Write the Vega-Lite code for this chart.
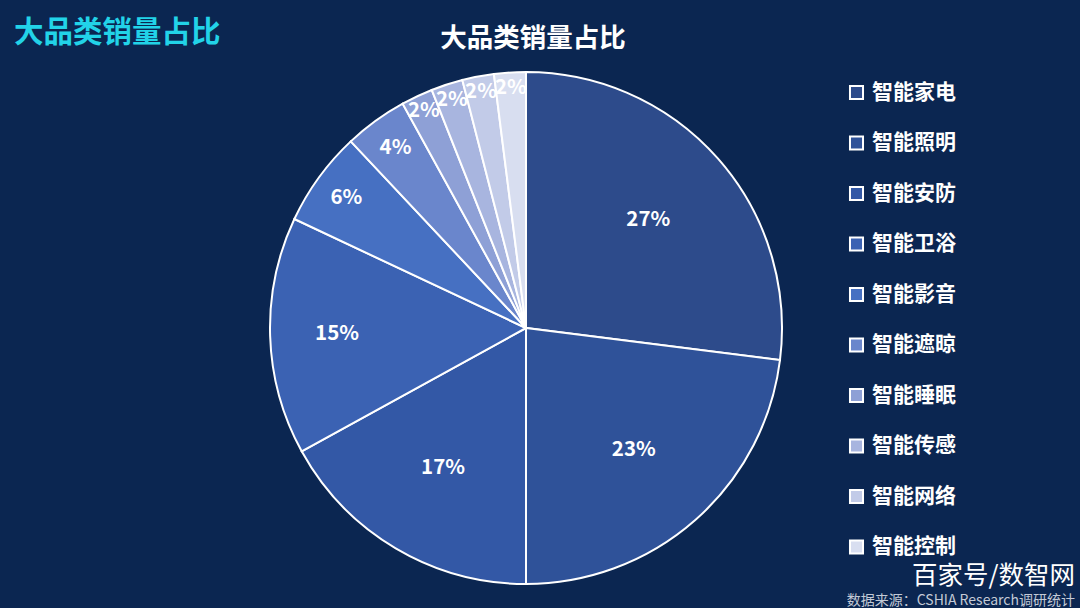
{
  "$schema": "https://vega.github.io/schema/vega-lite/v6.json",
  "background": "#0b2651",
  "padding": {"left": 0, "top": 18, "right": 5, "bottom": 0},
  "config": {"view": {"stroke": null}, "font": "Noto Sans CJK SC", "concat": {"spacing": 0}},
  "data": {
    "values": [
      {"category": "智能家电", "value": 27, "label": "27%", "rank": 1},
      {"category": "智能照明", "value": 23, "label": "23%", "rank": 2},
      {"category": "智能安防", "value": 17, "label": "17%", "rank": 3},
      {"category": "智能卫浴", "value": 15, "label": "15%", "rank": 4},
      {"category": "智能影音", "value": 6, "label": "6%", "rank": 5},
      {"category": "智能遮晾", "value": 4, "label": "4%", "rank": 6},
      {"category": "智能睡眠", "value": 2, "label": "2%", "rank": 7},
      {"category": "智能传感", "value": 2, "label": "2%", "rank": 8},
      {"category": "智能网络", "value": 2, "label": "2%", "rank": 9},
      {"category": "智能控制", "value": 2, "label": "2%", "rank": 10}
    ]
  },
  "title": {
    "text": "百家号/数智网",
    "subtitle": "数据来源：CSHIA Research调研统计",
    "orient": "bottom",
    "anchor": "end",
    "frame": "group",
    "offset": -24,
    "dx": 23,
    "color": "white",
    "fontSize": 25.5,
    "fontWeight": "normal",
    "font": "Noto Sans CJK SC",
    "subtitleColor": "#c3cad6",
    "subtitleFontSize": 14,
    "subtitleFont": "Noto Sans CJK SC",
    "subtitlePadding": 4
  },
  "vconcat": [
    {
      "title": {
        "text": "大品类销量占比",
        "anchor": "start",
        "frame": "group",
        "offset": -23,
        "dx": 14,
        "color": "#22d3e8",
        "fontSize": 29.5,
        "fontWeight": "bold",
        "font": "Noto Sans CJK SC"
      },
      "vconcat": [
        {
          "title": {
            "text": "大品类销量占比",
            "anchor": "middle",
            "frame": "group",
            "offset": 16,
            "dx": 7,
            "color": "white",
            "fontSize": 26.5,
            "fontWeight": "bold",
            "font": "Noto Sans CJK SC"
          },
          "width": 1052,
          "height": 512,
          "layer": [
            {
              "mark": {"type": "arc", "stroke": "white", "strokeWidth": 2},
              "encoding": {
                "theta": {"field": "value", "type": "quantitative", "stack": true},
                "order": {"field": "rank", "type": "quantitative"},
                "color": {
                  "field": "category",
                  "type": "nominal",
                  "scale": {
                    "domain": ["智能家电", "智能照明", "智能安防", "智能卫浴", "智能影音", "智能遮晾", "智能睡眠", "智能传感", "智能网络", "智能控制"],
                    "range": ["#2d4b8b", "#2f5299", "#3358a6", "#3b62b3", "#4670c2", "#6a86cc", "#8ea0d6", "#a8b5df", "#c2cbe8", "#d8def0"]
                  },
                  "legend": {
                    "title": null,
                    "orient": "none",
                    "legendX": 846,
                    "legendY": 10,
                    "symbolType": "square",
                    "symbolSize": 170,
                    "symbolStrokeColor": "white",
                    "symbolStrokeWidth": 2,
                    "symbolOpacity": 1,
                    "labelColor": "white",
                    "labelFontSize": 21,
                    "labelFontWeight": "bold",
                    "labelFont": "Noto Sans CJK SC",
                    "labelOffset": 5,
                    "rowPadding": 27.5
                  }
                }
              }
            },
            {
              "mark": {"type": "text", "radius": 163, "fontSize": 20.5, "fontWeight": "bold", "fill": "white", "font": "Noto Sans CJK SC"},
              "encoding": {
                "theta": {"field": "value", "type": "quantitative", "stack": true},
                "order": {"field": "rank", "type": "quantitative"},
                "text": {"condition": {"test": "datum.value >= 17", "field": "label"}, "value": ""}
              }
            },
            {
              "mark": {"type": "text", "radius": 189, "fontSize": 20.5, "fontWeight": "bold", "fill": "white", "font": "Noto Sans CJK SC"},
              "encoding": {
                "theta": {"field": "value", "type": "quantitative", "stack": true},
                "order": {"field": "rank", "type": "quantitative"},
                "text": {"condition": {"test": "datum.value == 15", "field": "label"}, "value": ""}
              }
            },
            {
              "mark": {"type": "text", "radius": 222, "fontSize": 20.5, "fontWeight": "bold", "fill": "white", "font": "Noto Sans CJK SC"},
              "encoding": {
                "theta": {"field": "value", "type": "quantitative", "stack": true},
                "order": {"field": "rank", "type": "quantitative"},
                "text": {"condition": {"test": "datum.value >= 4 && datum.value < 15", "field": "label"}, "value": ""}
              }
            },
            {
              "mark": {"type": "text", "radius": 240, "fontSize": 20.5, "fontWeight": "bold", "fill": "white", "font": "Noto Sans CJK SC"},
              "encoding": {
                "theta": {"field": "value", "type": "quantitative", "stack": true},
                "order": {"field": "rank", "type": "quantitative"},
                "text": {"condition": {"test": "datum.value < 4", "field": "label"}, "value": ""}
              }
            }
          ]
        }
      ]
    }
  ]
}
